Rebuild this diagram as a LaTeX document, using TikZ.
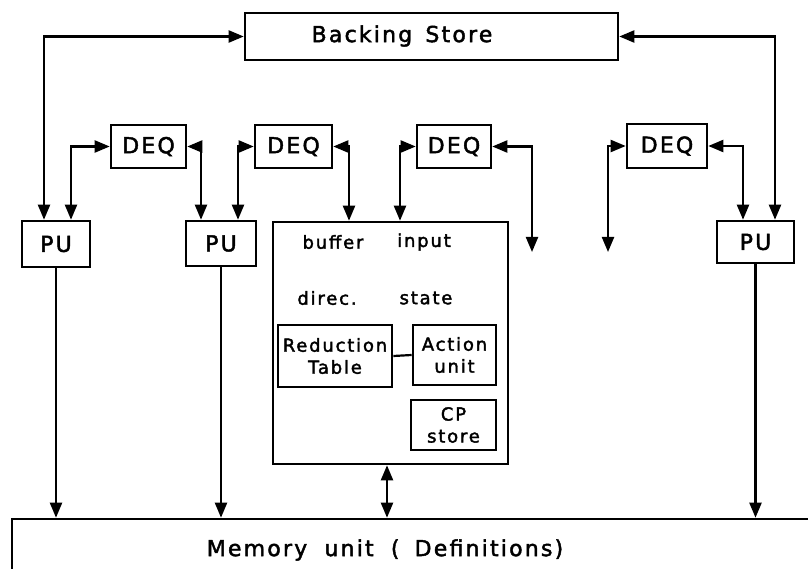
\documentclass[tikz,border=0pt]{standalone}
\usepackage{fontspec}
\setmainfont{DejaVu Sans}[LetterSpace=10, FakeBold=2]
\usetikzlibrary{arrows.meta}

\begin{document}
\begin{tikzpicture}[x=1pt, y=-1pt,
    box/.style={draw, line width=2.6pt, inner sep=0pt, align=center},
    lbl/.style={font=\fontsize{22}{24}\selectfont},
    small/.style={font=\fontsize{18}{22}\selectfont, align=center},
    >={Triangle[length=15pt, width=12pt]}]
    \useasboundingbox (0,0) rectangle (808,569);

    % --- Top: Backing Store ---
    \node[box, minimum width=373pt, minimum height=47pt] (back) at (431.5, 36.5) {};
    \node[lbl] (backtext) at (402, 36) {Backing\hspace{4pt} Store};

    % DEQ boxes
    \node[box, lbl, minimum width=75pt, minimum height=43pt] (deq1) at (148.5, 146.5) {DEQ};
    \node[box, lbl, minimum width=77pt, minimum height=43pt] (deq2) at (293.5, 146.5) {DEQ};
    \node[box, lbl, minimum width=74pt, minimum height=43pt] (deq3) at (454, 146.5) {DEQ};
    \node[box, lbl, minimum width=80pt, minimum height=44pt] (deq4) at (667, 146) {DEQ};

    % PU boxes
    \node[box, lbl, minimum width=68pt, minimum height=46pt] (pu1) at (56, 244) {PU};
    \node[box, lbl, minimum width=70pt, minimum height=45pt] (pu2) at (221, 243.5) {PU};
    \node[box, lbl, minimum width=77pt, minimum height=42pt] (pu4) at (755.5, 242) {PU};

    % --- Middle: reduction machine ---
    \node[box, minimum width=235pt, minimum height=242pt] (mainbox) at (390.5, 343) {};
    \node[small] (buffer) at (333, 242) {buffer};
    \node[small] (input) at (424, 242) {input};
    \node[small] (direc) at (327, 298) {direc.};
    \node[small] (state) at (426, 298) {state};
    \node[box, small, minimum width=114pt, minimum height=62pt] (red) at (335, 356) {Reduction\\Table};
    \node[box, small, minimum width=83pt, minimum height=60pt] (act) at (454.5, 355) {Action\\unit};
    \node[box, small, minimum width=85pt, minimum height=50pt] (cp) at (453.5, 425) {CP\\store};
    \draw[line width=2.2pt] (red.east) -- (act.west);

    % --- Bottom: Memory unit (runs off the page) ---
    \node[box, minimum width=830pt, minimum height=80pt] (mem) at (427, 559) {};
    \node[lbl] (memtext) at (385, 550) {Memory\hspace{8pt} unit\hspace{8pt} (\hspace{6pt} Definitions)};

    % free ends
    \coordinate (end3) at (532, 252);
    \coordinate (end4) at (608, 252);

    % Connectors
    \begin{scope}[line width=2.2pt]
        \draw[<->] ([xshift=-12pt]pu1.north) |- (back.west);
        \draw[<->] ([xshift=19.5pt]pu4.north) |- (back.east);
        \draw[<->] ([xshift=15pt]pu1.north) |- (deq1.west);
        \draw[<->] ([xshift=-20pt]pu2.north) |- (deq1.east);
        \draw[<->] ([xshift=17pt]pu2.north) |- (deq2.west);
        \draw[<->] ([xshift=-41.5pt]mainbox.north) |- (deq2.east);
        \draw[<->] ([xshift=9.5pt]mainbox.north) |- (deq3.west);
        \draw[<->] (end3) |- (deq3.east);
        \draw[<->] (end4) |- (deq4.west);
        \draw[<->] ([xshift=-12.5pt]pu4.north) |- (deq4.east);

        \draw[->] (pu1.south) -- (pu1.south |- mem.north);
        \draw[->] (pu2.south) -- (pu2.south |- mem.north);
        \draw[->] (pu4.south) -- (pu4.south |- mem.north);
        \draw[<->] ([xshift=-3.5pt]mainbox.south) -- ([xshift=-3.5pt]mainbox.south |- mem.north);
    \end{scope}

\end{tikzpicture}
\end{document}
